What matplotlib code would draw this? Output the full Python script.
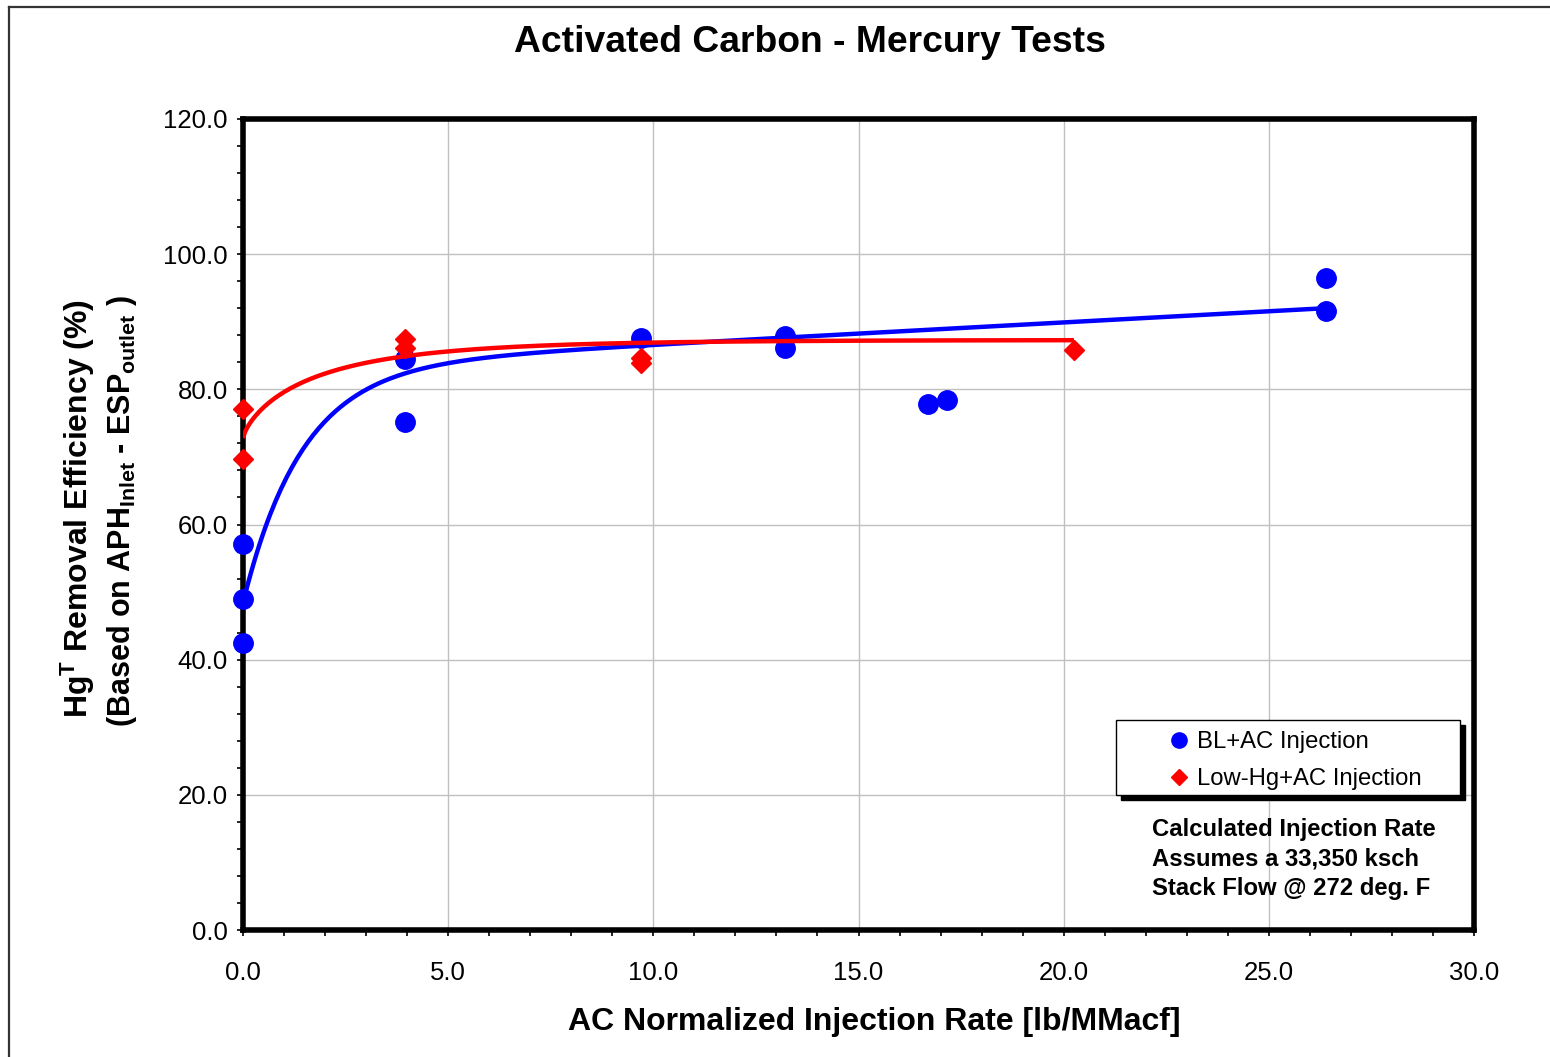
import numpy as np
import matplotlib
matplotlib.use("Agg")
import matplotlib.pyplot as plt
from matplotlib.patches import Rectangle
from matplotlib.lines import Line2D
from matplotlib.ticker import MultipleLocator, FormatStrFormatter

plt.rcParams['font.family'] = ['Liberation Sans', 'DejaVu Sans']
plt.rcParams['mathtext.fontset'] = 'custom'
plt.rcParams['mathtext.rm'] = 'Liberation Sans'
plt.rcParams['mathtext.bf'] = 'Liberation Sans:bold'
plt.rcParams['mathtext.it'] = 'Liberation Sans:italic'

# ---------------- data ----------------
bl_rate = [0.0, 0.0, 0.0, 3.95, 3.95, 9.7, 13.2, 13.2, 16.7, 17.15, 26.4, 26.4]
bl_eff = [57.1, 49.0, 42.5, 84.5, 75.2, 87.6, 87.9, 86.1, 77.8, 78.4, 96.5, 91.6]

lowhg_rate = [0.0, 0.0, 3.95, 3.95, 9.7, 9.7, 20.25]
lowhg_eff = [77.1, 69.7, 87.5, 86.1, 84.6, 83.9, 85.8]

# trendline models (fitted curves as shown on the chart)
bl_fit = dict(a=83.3, b=0.33, c=34.9, k=0.695, xmax=26.4)          # a + b x - c exp(-k x)
lowhg_fit = dict(A=87.3, B=14.5, k=0.633, p=0.76, xmax=20.25)      # A - B exp(-k x^p)

xticks = [0.0, 5.0, 10.0, 15.0, 20.0, 25.0, 30.0]
yticks = [0.0, 20.0, 40.0, 60.0, 80.0, 100.0, 120.0]

title = "Activated Carbon - Mercury Tests"
xlabel = "AC Normalized Injection Rate [lb/MMacf]"
ylabel1 = r"Hg$^{\mathbf{T}}$ Removal Efficiency (%)"
ylabel2 = r"(Based on APH$_{\mathbf{Inlet}}$ - ESP$_{\mathbf{outlet}}$ )"
legend_labels = ["BL+AC Injection", "Low-Hg+AC Injection"]
note = "Calculated Injection Rate\nAssumes a 33,350 ksch\nStack Flow @ 272 deg. F"

BLUE = "#0000ff"
RED = "#ff0000"

W, H = 1550, 1057
fig = plt.figure(figsize=(W / 100, H / 100), dpi=100)

# outer border (top and left visible)
fig.add_artist(Line2D([9 / W, 1.0], [1 - 7 / H, 1 - 7 / H], color="#333333", lw=1.6,
                      transform=fig.transFigure))
fig.add_artist(Line2D([9 / W, 9 / W], [0.0, 1 - 7 / H], color="#333333", lw=1.6,
                      transform=fig.transFigure))

L, R, T, B = 243, 1474, 119, 930
ax = fig.add_axes([L / W, 1 - B / H, (R - L) / W, (B - T) / H])
ax.set_xlim(0, 30)
ax.set_ylim(0, 120)

for s in ax.spines.values():
    s.set_linewidth(4.0)
    s.set_color("black")

ax.set_xticks(xticks)
ax.set_yticks(yticks)
ax.xaxis.set_major_formatter(FormatStrFormatter("%.1f"))
ax.yaxis.set_major_formatter(FormatStrFormatter("%.1f"))
ax.xaxis.set_minor_locator(MultipleLocator(1.0))
ax.yaxis.set_minor_locator(MultipleLocator(4.0))
ax.tick_params(axis="both", which="both", direction="out", length=4, width=1.2, color="black")
ax.tick_params(axis="x", which="major", pad=18, labelsize=18.5)
ax.tick_params(axis="y", which="major", pad=7, labelsize=18.5)
ax.grid(True, which="major", color="#c0c0c0", lw=1.0)
ax.set_axisbelow(True)

# markers
ax.plot(bl_rate, bl_eff, linestyle="none", marker="o", ms=14, color=BLUE, mec=BLUE,
        zorder=3, clip_on=False)
ax.plot(lowhg_rate, lowhg_eff, linestyle="none", marker="D", ms=10, color=RED, mec=RED,
        zorder=4, clip_on=False)

# trendlines
xb = np.linspace(0, bl_fit["xmax"], 400)
yb = bl_fit["a"] + bl_fit["b"] * xb - bl_fit["c"] * np.exp(-bl_fit["k"] * xb)
ax.plot(xb, yb, color=BLUE, lw=3.2, zorder=5, solid_capstyle="butt")
xr = np.linspace(0, lowhg_fit["xmax"], 400)
yr = lowhg_fit["A"] - lowhg_fit["B"] * np.exp(-lowhg_fit["k"] * xr ** lowhg_fit["p"])
ax.plot(xr, yr, color=RED, lw=3.2, zorder=6, solid_capstyle="butt")

# legend (frame + shadow drawn as patches)
fx0, fx1 = (1116 - L) / (R - L), (1460 - L) / (R - L)
fy1, fy0 = (B - 720) / (B - T), (B - 795) / (B - T)
dx, dy = 5 / (R - L), 5 / (B - T)
ax.add_patch(Rectangle((fx0 + dx, fy0 - dy), fx1 - fx0, fy1 - fy0, transform=ax.transAxes,
                       facecolor="black", edgecolor="black", zorder=7))
ax.add_patch(Rectangle((fx0, fy0), fx1 - fx0, fy1 - fy0, transform=ax.transAxes,
                       facecolor="white", edgecolor="black", lw=1.0, zorder=8))
handles = [Line2D([], [], linestyle="none", marker="o", ms=11, color=BLUE),
           Line2D([], [], linestyle="none", marker="D", ms=8, color=RED)]
leg = ax.legend(handles, legend_labels, loc="upper left",
                bbox_to_anchor=((1160 - L) / (R - L), (B - 724) / (B - T)),
                frameon=False, fontsize=17.2, handlelength=1.0, handletextpad=0.25,
                labelspacing=0.62, borderpad=0.3, borderaxespad=0)
leg.set_zorder(9)

ax.text((1152 - L) / (R - L), (B - 818) / (B - T), note, transform=ax.transAxes,
        fontsize=17.2, fontweight="bold", ha="left", va="top", linespacing=1.36, zorder=9)

# titles / labels
fig.text(810 / W, 1 - 42 / H, title, fontsize=26.8, fontweight="bold", ha="center", va="center")
fig.text(874 / W, 1 - 1022 / H, xlabel, fontsize=23, fontweight="bold", ha="center", va="center")
fig.text(78 / W, 1 - 509 / H, ylabel1, fontsize=23, fontweight="bold", ha="center",
         va="center", rotation=90)
fig.text(122 / W, 1 - 511 / H, ylabel2, fontsize=22, fontweight="bold", ha="center",
         va="center", rotation=90)

fig.savefig("out.png", dpi=100)
